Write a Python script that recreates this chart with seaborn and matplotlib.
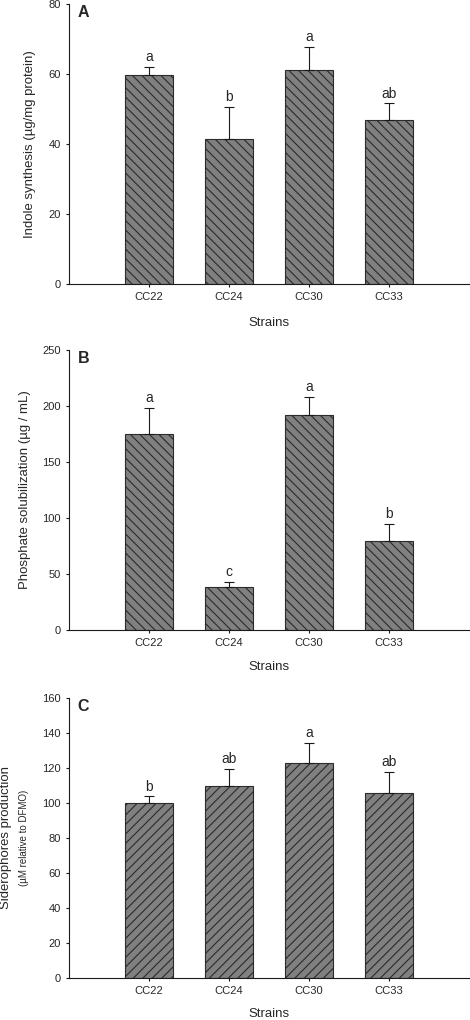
import numpy as np
import pandas as pd
import matplotlib
matplotlib.use("Agg")
import matplotlib.pyplot as plt
import seaborn as sns

# Data
strains = ["CC22", "CC24", "CC30", "CC33"]

indole = [59.8, 41.3, 61.2, 46.8]
indole_err = [2.3, 9.2, 6.6, 4.8]
indole_letters = ["a", "b", "a", "ab"]

phosphate = [175.4, 38.0, 192.0, 79.4]
phosphate_err = [22.9, 5.1, 16.1, 15.4]
phosphate_letters = ["a", "c", "a", "b"]

siderophore = [100.2, 109.5, 122.9, 105.5]
siderophore_err = [3.6, 10.1, 11.4, 12.2]
siderophore_letters = ["b", "ab", "a", "ab"]

# hatch spacing scales with dpi, so render at 114 dpi and shrink point sizes to match
DPI = 114
K = 100 / DPI

sns.set_style("ticks")
plt.rcParams["font.family"] = ["Liberation Sans", "DejaVu Sans"]
plt.rcParams["hatch.linewidth"] = 0.8 * K
plt.rcParams["hatch.color"] = "#1a1a1a"

fig = plt.figure(figsize=(470 / DPI, 1020 / DPI), dpi=DPI)

# axes rectangles in figure fraction
left, width, height = 0.1468, 0.851, 0.2745
bottoms = [0.7216, 0.3824, 0.0412]

panels = [
    ("A", indole, indole_err, indole_letters, 80, 20, "\\\\\\\\",
     "Indole synthesis (\u00b5g/mg protein)", -0.083, -0.118),
    ("B", phosphate, phosphate_err, phosphate_letters, 250, 50, "\\\\\\\\",
     "Phosphate solubilization (\u00b5g / mL)", -0.096, -0.112),
    ("C", siderophore, siderophore_err, siderophore_letters, 160, 20, "////",
     "Siderophores production", -0.1425, -0.107),
]

for (tag, vals, errs, letters, ymax, ystep, hatch, ylab, ylx, xly), b in zip(panels, bottoms):
    ax = fig.add_axes([left, b, width, height])
    df = pd.DataFrame({"strain": strains, "value": vals})
    sns.barplot(data=df, x="strain", y="value", color="#808080", saturation=1,
                width=0.6, edgecolor="#2b2b2b", linewidth=0.8 * K, errorbar=None, ax=ax)
    centers = []
    for bar in ax.patches:
        bar.set_hatch(hatch)
        centers.append(bar.get_x() + bar.get_width() / 2)
    ax.errorbar(centers, vals, yerr=[np.zeros(len(vals)), errs], fmt="none",
                ecolor="#1a1a1a", elinewidth=0.8 * K, capsize=3.6 * K,
                capthick=0.8 * K, zorder=5)
    for xc, v, e, lt in zip(centers, vals, errs, letters):
        ax.annotate(lt, (xc, v + e), xytext=(0, 2 * K), textcoords="offset points",
                    ha="center", va="bottom", fontsize=10 * K)

    ax.set_xlim(-1, len(strains))
    ax.set_ylim(0, ymax)
    ax.set_yticks(np.arange(0, ymax + 1, ystep))
    sns.despine(ax=ax)
    for sp in ("left", "bottom"):
        ax.spines[sp].set_linewidth(0.8 * K)
        ax.spines[sp].set_color("#1a1a1a")
    ax.tick_params(length=2.4 * K, width=0.8 * K, pad=3.5 * K, labelsize=8 * K,
                   color="#1a1a1a")

    ax.set_xlabel("Strains", fontsize=9.5 * K)
    ax.xaxis.set_label_coords(0.5, xly)
    ax.set_ylabel(ylab, fontsize=9.5 * K)
    ax.yaxis.set_label_coords(ylx, 0.5)
    if tag == "C":
        ax.text(-0.1, 0.5, "(\u00b5M relative to DFMO)", transform=ax.transAxes,
                rotation=90, ha="right", va="center", fontsize=7 * K)

    ax.text(0.022, 0.995, tag, transform=ax.transAxes, fontsize=11.5 * K,
            fontweight="bold", ha="left", va="top")

fig.savefig("out.png", dpi=DPI)
